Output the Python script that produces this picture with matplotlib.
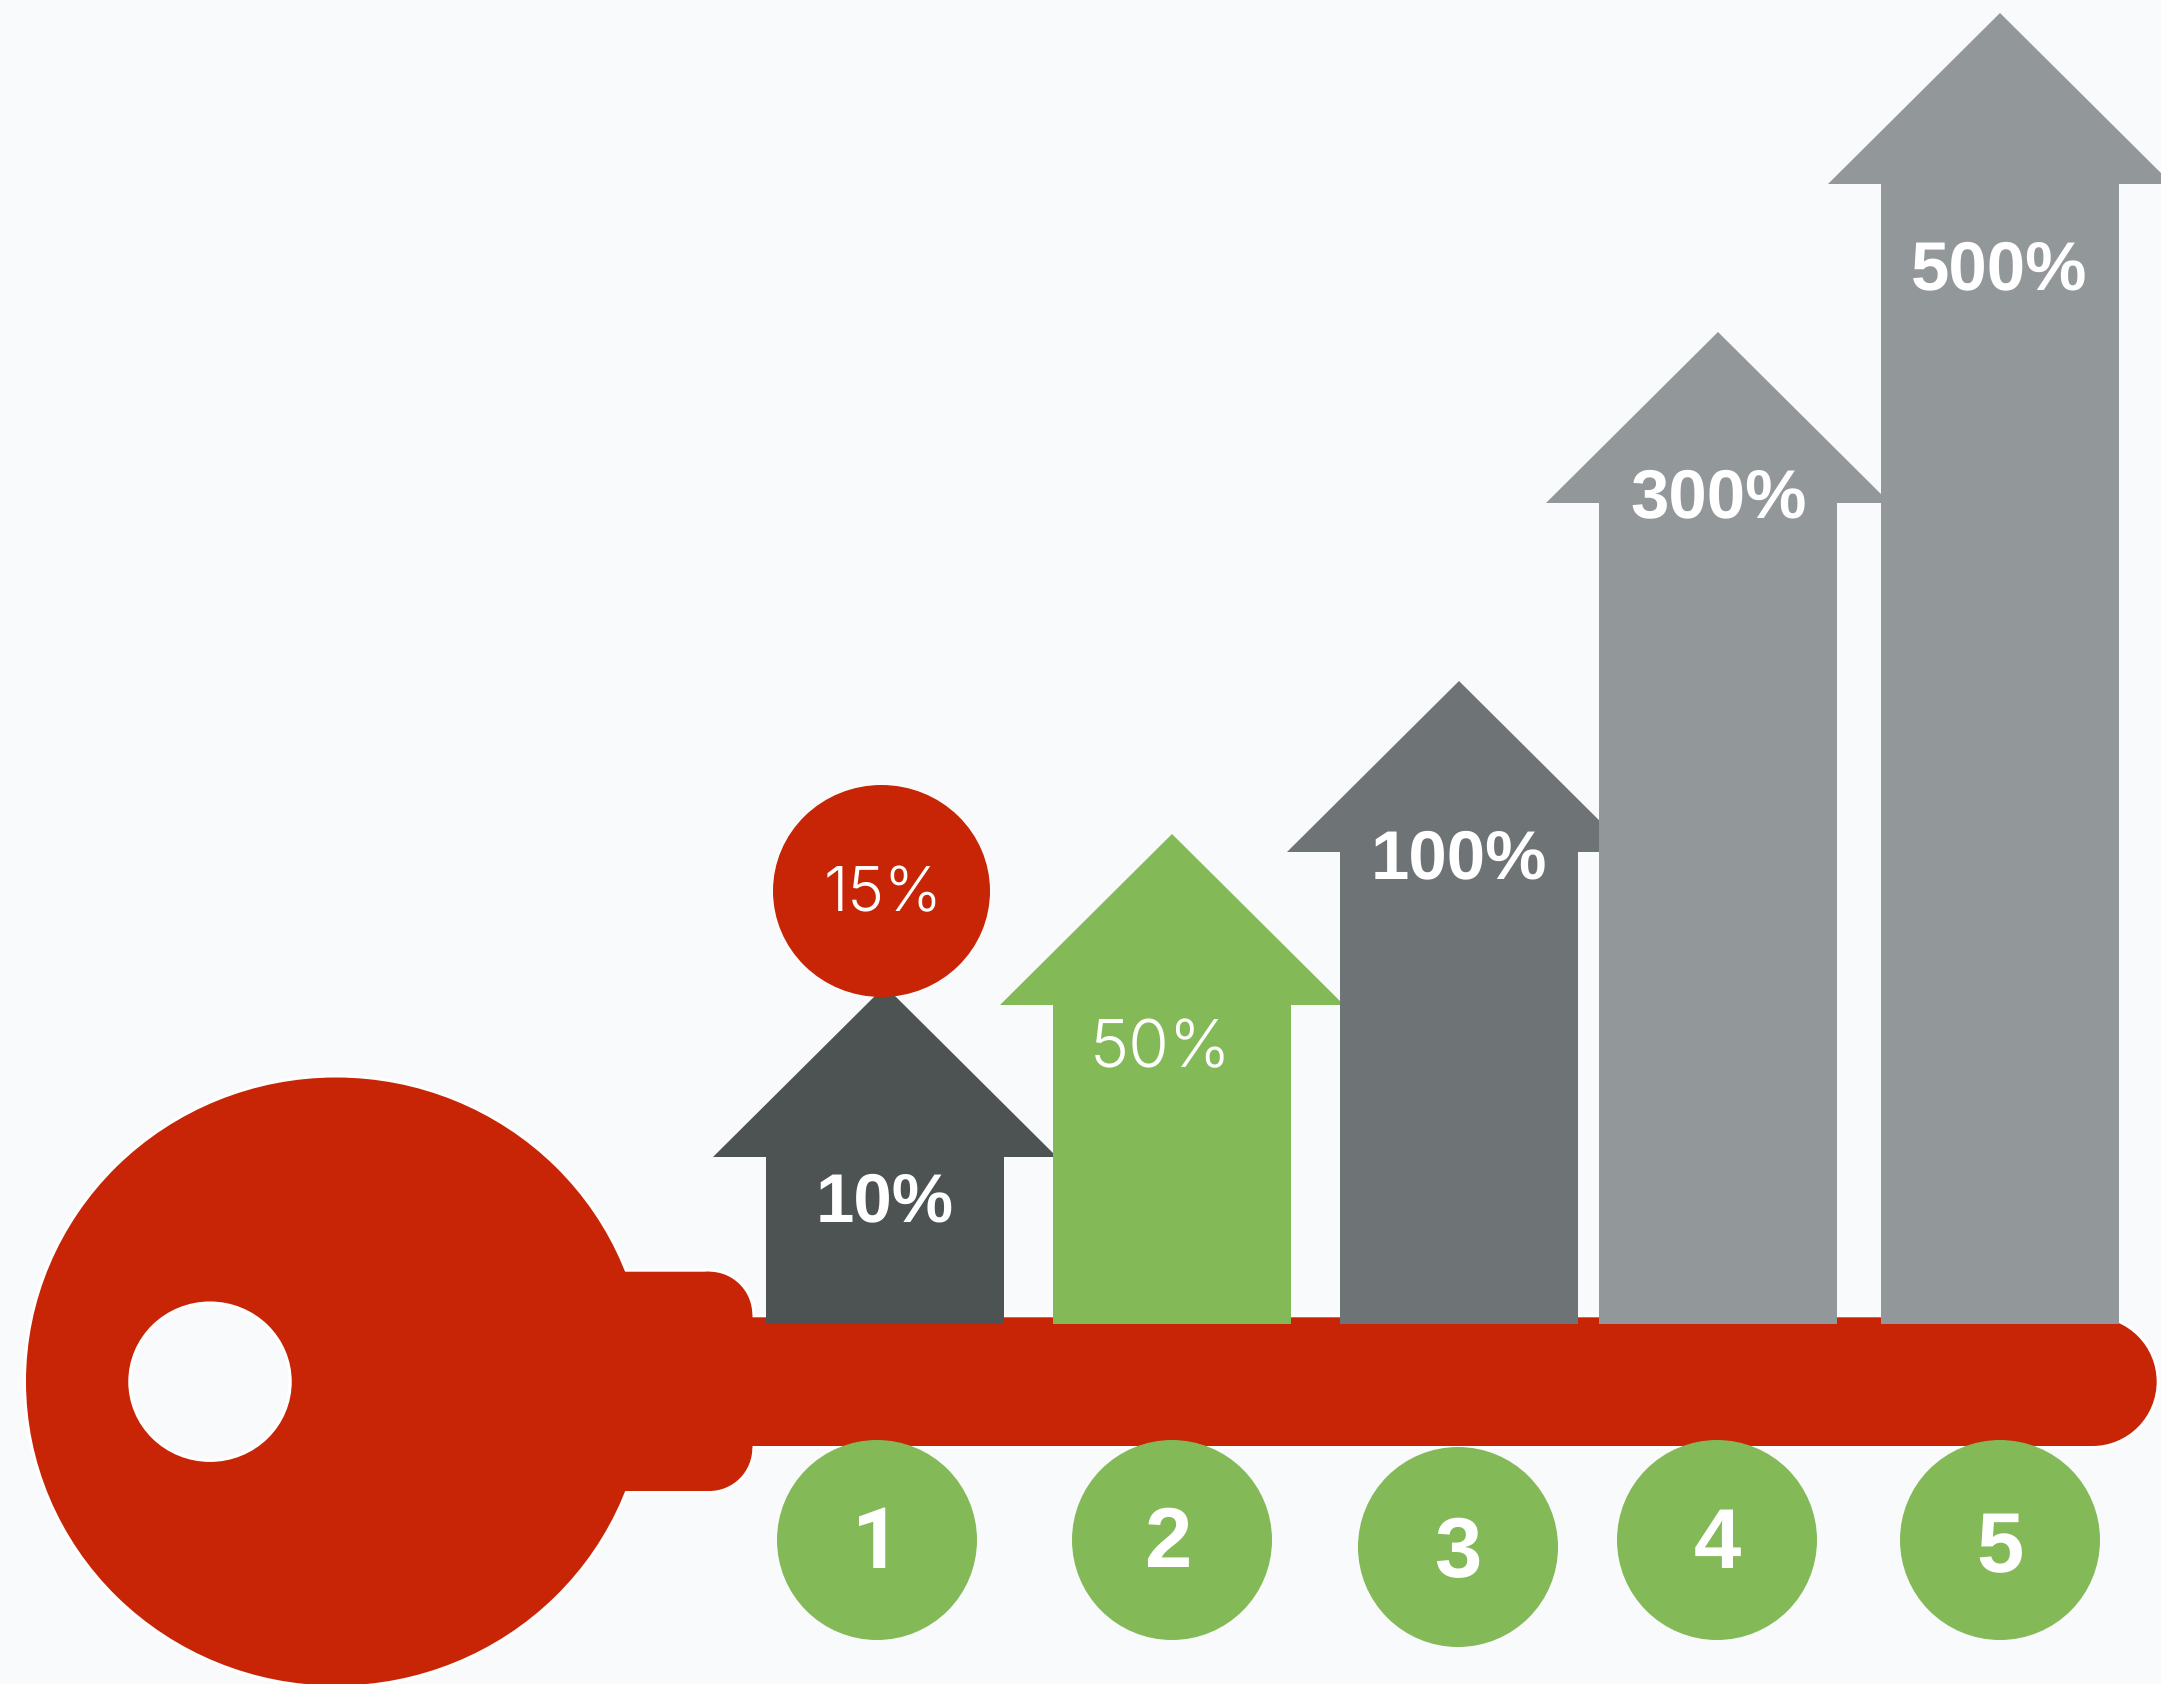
"""Key-shaped growth graphic: five house arrows standing on a red key."""

import matplotlib

matplotlib.use("Agg")
import matplotlib.pyplot as plt
from matplotlib.patches import Circle, Ellipse, Polygon, Rectangle

plt.rcParams["text.hinting"] = "no_hinting"
plt.rcParams["text.hinting_factor"] = 1

BACKGROUND = "#f9fafc"
RED = "#c72505"
GREEN = "#84b958"

step_numbers = ["1", "2", "3", "4", "5"]
step_labels = ["10%", "50%", "100%", "300%", "500%"]
arrow_heights = [338, 490, 643, 992, 1311]
arrow_colors = ["#4d5352", GREEN, "#6e7376", "#92979a", "#92979a"]
arrow_centers = [885, 1172, 1459, 1718, 2000]
label_centers = [885, 1161, 1459, 1719, 1999]
label_baselines = [1221, 1067, 878, 517, 289]
label_weights = ["bold", "light", "bold", "bold", "bold"]
circle_centers = [877, 1172, 1458, 1717, 2000]
circle_rows = [1540, 1540, 1547, 1540, 1540]
digit_centers = [875, 1168, 1458, 1717, 2000]
digit_baselines = [1568, 1567, 1577, 1568, 1572]

BASELINE = 1324
SHAFT_HALF = 119
HEAD_HALF = 172
HEAD_HEIGHT = 171


def font_for(weight):
    if weight == "light":
        return {"family": ["Inter"], "fontweight": 300}
    return {"family": ["Liberation Sans"], "fontweight": "bold"}


def digit_font(digit):
    # Liberation's 1 carries a foot serif, so that one comes from Roboto
    if digit == "1":
        return {"family": ["Roboto"], "fontweight": "bold"}
    return font_for("bold")


def key_shapes():
    """Bow, shoulder block and blade of the key, built from plain primitives."""
    corner = 43
    return [
        lambda **kw: Ellipse((336, 1381.5), 620, 608, **kw),
        # shoulder block with two rounded corners on the right
        lambda **kw: Rectangle((560, 1271.7), 192.3 - corner, 219.3, **kw),
        lambda **kw: Rectangle((600, 1271.7 + corner), 152.3, 219.3 - 2 * corner, **kw),
        lambda **kw: Circle((752.3 - corner, 1271.7 + corner), corner, **kw),
        lambda **kw: Circle((752.3 - corner, 1491 - corner), corner, **kw),
        # blade and its round end
        lambda **kw: Rectangle((600, 1317.3), 1492.3, 128.7, **kw),
        lambda **kw: Circle((2092.3, 1381.65), 64.35, **kw),
    ]


def draw_key(ax):
    # white halo first, so the fills merge into one silhouette on top of it
    for make in key_shapes():
        ax.add_patch(make(facecolor="white", edgecolor="white", linewidth=4.5,
                          zorder=1, snap=False))
    for make in key_shapes():
        ax.add_patch(make(facecolor=RED, edgecolor="none", zorder=2, snap=False))
    ax.add_patch(Ellipse((210, 1381.7), 160, 157, facecolor=BACKGROUND,
                         edgecolor="white", linewidth=2.5, zorder=3))


def draw_arrow(ax, center, height, color, zorder):
    tip = BASELINE - height
    shoulder = tip + HEAD_HEIGHT
    outline = [
        (center - SHAFT_HALF, BASELINE),
        (center - SHAFT_HALF, shoulder),
        (center - HEAD_HALF, shoulder),
        (center, tip),
        (center + HEAD_HALF, shoulder),
        (center + SHAFT_HALF, shoulder),
        (center + SHAFT_HALF, BASELINE),
    ]
    ax.add_patch(Polygon(outline, closed=True, facecolor=color, edgecolor="none",
                         zorder=zorder))


fig = plt.figure(figsize=(21.61, 16.84), dpi=100, facecolor=BACKGROUND)
ax = fig.add_axes([0, 0, 1, 1])
ax.set_xlim(0, 2161)
ax.set_ylim(1684, 0)
ax.axis("off")

draw_key(ax)

for i, (center, height, color) in enumerate(zip(arrow_centers, arrow_heights, arrow_colors)):
    draw_arrow(ax, center, height, color, zorder=4 + i)

for label, x, y, weight in zip(step_labels, label_centers, label_baselines, label_weights):
    size = 47.5 if weight == "light" else 50
    ax.text(x, y, label, color="white", fontsize=size, ha="center", va="baseline",
            zorder=12, **font_for(weight))

# 15% bubble sitting on the first arrow
ax.add_patch(Ellipse((881.5, 891), 217, 212, facecolor=RED, edgecolor="none", zorder=10))
ax.text(883.5, 911.5, "15%", color="white", fontsize=44.5, ha="center", va="baseline",
        zorder=12, **font_for("light"))

for x, y in zip(circle_centers, circle_rows):
    ax.add_patch(Circle((x, y), 100, facecolor=GREEN, edgecolor="none", zorder=10))

for digit, x, baseline in zip(step_numbers, digit_centers, digit_baselines):
    ax.text(x, baseline, digit, color="white", fontsize=61, ha="center", va="baseline",
            zorder=12, **digit_font(digit))

fig.savefig("out.png", dpi=100, facecolor=BACKGROUND)
plt.close(fig)
